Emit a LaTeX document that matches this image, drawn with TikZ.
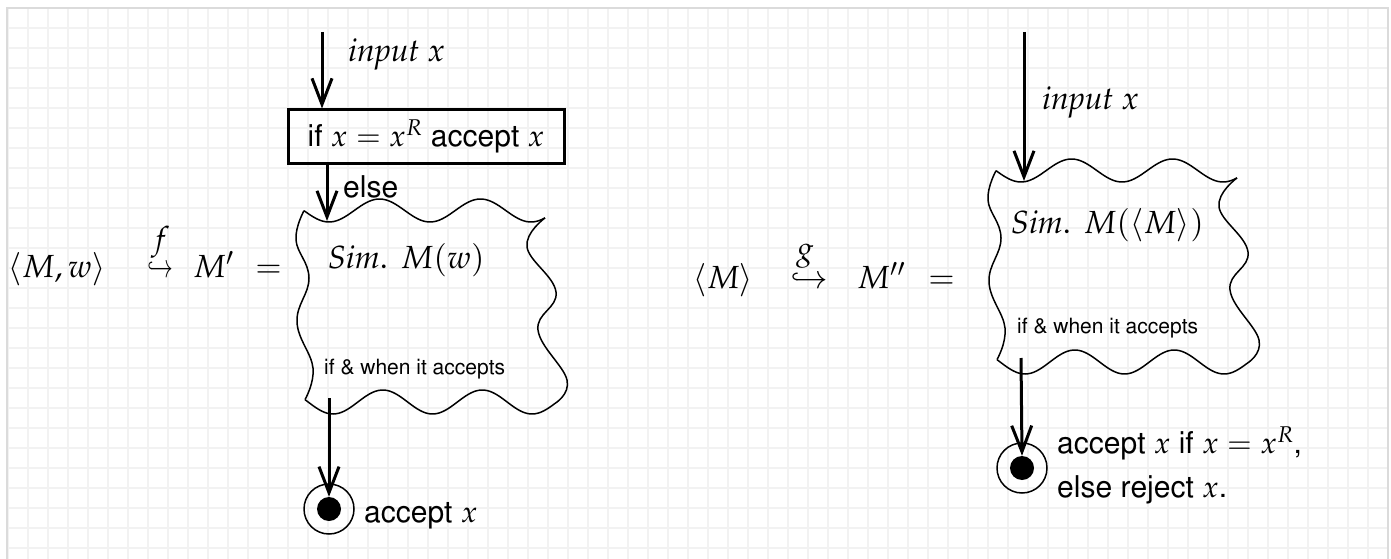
\documentclass[tikz,border=0pt]{standalone}
\usepackage[T1]{fontenc}
\usepackage{mathpazo}
\usepackage[scaled=1]{helvet}
\usetikzlibrary{arrows.meta}
\newcommand{\wavyoutline}{%
  \draw[wave] plot[smooth, tension=0.7] coordinates {(0,-1.3) (-8,28) (5,66) (-7,110) (9,156) (1,187.6)};
  \draw[wave] plot[domain=0:241, samples=90] (\x, {-1.5+11.5*cos(3.5644*(\x-25))});
  \draw[wave] plot[smooth, tension=0.7] coordinates {(241,5.9) (223,35) (252,80) (234,118) (263,168) (251,191.4)};
  \draw[wave] plot[domain=1:251, samples=90] (\x, {190+12*cos(3.6181*(\x-29))});
}
\tikzset{
  grd/.style={line width=2.5pt, black!5},
  frm/.style={line width=1.2pt, black!14},
  arr/.style={line width=3pt, -{Straight Barb[length=26pt,width=20pt]}},
  wave/.style={line width=1.5pt, line join=round},
  lbl/.style={inner sep=0pt, anchor=base west},
  sans/.style={font=\fontsize{30}{36}\selectfont\sffamily},
  ital/.style={font=\fontsize{32}{38}\selectfont},
  small/.style={font=\fontsize{21}{25}\selectfont\sffamily},
  mth/.style={font=\fontsize{32}{38}\selectfont},
  stbox/.style={draw, line width=3pt, minimum width=276pt, minimum height=53pt, inner sep=0pt},
  acc/.style={circle, draw, line width=1.5pt, minimum size=50pt, inner sep=0pt},
  dot/.style={circle, fill, minimum size=24pt, inner sep=0pt},
  simarea/.style={inner sep=0pt, minimum width=250pt, minimum height=190pt, anchor=north west},
}
\begin{document}
\begin{tikzpicture}[x=1pt, y=-1pt]
\useasboundingbox (0,0) rectangle (1391,559);
\fill[white] (0,0) rectangle (1391,559);
% grid
\foreach \i in {0,...,69} \draw[grd] ({8+20*\i},8) -- ({8+20*\i},559);
\foreach \j in {0,...,27} \draw[grd] (8,{8+20*\j}) -- (1388,{8+20*\j});
\draw[frm] (7,560) -- (7,8) -- (1388,8) -- (1388,560);

% ---------- left machine ----------
\node[lbl, mth] (mw) at (8,277) {$\langle M,w\rangle$};
\node[lbl, mth] (hookL) at (147,277) {\scalebox{0.68}[1]{$\hookrightarrow$}};
\node[lbl, mth] (fL) at (151,249) {$f$};
\node[lbl, mth] (mp) at (193,277) {$M'$};
\node[lbl, mth] (eqL) at (255,277) {$=$};

\coordinate (inL) at (322,32);
\node[lbl, ital] (inLbl) at (348,62) {$\mathit{input}~x$};
\node[stbox, sans] (box) at (426,136.5) {if $x = x^R$ accept $x$};
\node[simarea] (simL) at (304,212) {};
\begin{scope}[shift={(304,212)}] \wavyoutline \end{scope}
\node[lbl, ital] (simLtxt) at (328,268) {$\mathit{Sim.}\hspace{13pt}M(w)$};
\node[lbl, small] (whenL) at (324,374) {if \& when it accepts};
\coordinate (elseS) at (327,163);
\coordinate (elseT) at (327,221);
\node[lbl, sans] (elseLbl) at (343,197) {else};
\coordinate (outL) at (329,398);
\node[acc] (accL) at (329,509) {};
\node[dot] (dotL) at (accL.center) {};
\node[lbl, sans] (accLtxt) at (364,522) {accept $x$};

\draw[arr] (inL) -- (inL |- box.north);
\draw[arr] (elseS) -- (elseT);
\draw[arr] (outL) -- (dotL.north);

% ---------- right machine ----------
\node[lbl, mth] (mR) at (693,288) {$\langle M\rangle$};
\node[lbl, mth] (hookR) at (790,288) {$\hookrightarrow$};
\node[lbl, mth] (gR) at (796,259) {$g$};
\node[lbl, mth] (mpp) at (857,288) {$M''$};
\node[lbl, mth] (eqR) at (928,288) {$=$};

\coordinate (inR) at (1024,32);
\coordinate (inRT) at (1024,181);
\node[lbl, ital] (inRlbl) at (1042,110) {$\mathit{input}~x$};
\node[simarea] (simR) at (996,172) {};
\begin{scope}[shift={(996,172)}] \wavyoutline \end{scope}
\node[lbl, ital] (simRtxt) at (1011,233) {$\mathit{Sim.}\hspace{13pt}M(\langle M\rangle)$};
\node[lbl, small] (whenR) at (1017,333) {if \& when it accepts};
\coordinate (outR) at (1021,358);
\node[acc] (accR) at (1022,468) {};
\node[dot] (dotR) at (accR.center) {};
\node[lbl, sans] (accR1) at (1057,453) {accept $x$ if $x = x^R$,};
\node[lbl, sans] (accR2) at (1057,497) {else reject $x$.};

\draw[arr] (inR) -- (inRT);
\draw[arr] (outR) -- (dotR.north);
\end{tikzpicture}
\end{document}
